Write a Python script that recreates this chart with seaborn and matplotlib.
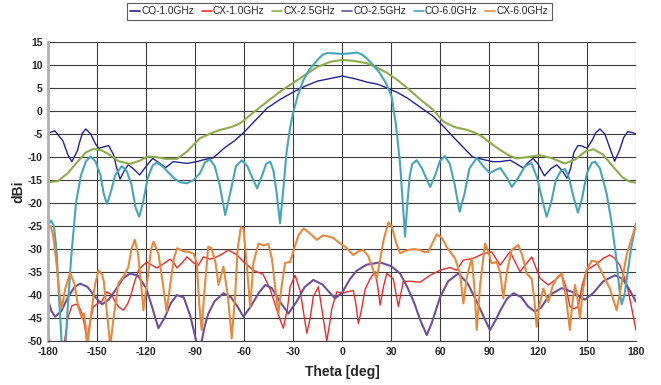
import numpy as np
import pandas as pd
import matplotlib
matplotlib.use("Agg")
import matplotlib.pyplot as plt
import seaborn as sns

# -------------------------------------------------
# data (theta in deg, gain in dBi)
# -------------------------------------------------
co10_theta = [-180, -176, -171, -168, -165.5, -162, -161, -159, -157, -154, -151, -149, -146, -143,
              -140, -138, -136, -133.5, -131, -128, -124, -120, -116, -112, -108, -103.5, -99, -95,
              -89, -85, -79, -72, -66, -60.6, -53, -46, -38, -30, -22, -15, -8, 0, 8, 15, 22, 27.5,
              34, 40, 48, 56, 62, 68, 74, 80, 86, 92, 96.8, 103, 107, 111, 114, 117, 120, 124, 128,
              131.6, 135, 137.8, 140, 142, 144.5, 147, 150, 153, 155.5, 158, 161, 164, 167, 170,
              172.5, 175, 178, 180]
co10_db = [-4.8, -4.3, -6.5, -9.5, -11, -8.5, -7, -4.8, -3.9, -5, -7.2, -8.1, -7.8, -7.5,
           -9.5, -12.5, -14.8, -13, -11.7, -12.5, -13.9, -12, -10.3, -11.3, -12.3, -11, -11.2, -11.4,
           -11, -10.6, -10.2, -8, -6.5, -4.8, -2, 0.6, 2.5, 4.1, 5.5, 6.5, 7, 7.6, 7, 6.3, 5.8, 5,
           4, 2.8, 0.8, -1.2, -3.3, -5.6, -7.8, -10, -10.5, -11, -11, -10.7, -11.5, -12.4, -11.2,
           -10.3, -11.5, -14.1, -12.5, -11.7, -13, -14.6, -12.5, -9, -7.5, -7.6, -8.1, -6.5, -4.7,
           -3.9, -5, -8, -10.9, -8.5, -5.8, -4.5, -4.7, -5]

cx10_theta = [-180, -178.5, -176, -172, -170, -168, -165.6, -163.5, -161.5, -159.4, -157.5, -156.4,
              -154.5, -152.3, -149.5, -147.2, -144.1, -141, -139, -137, -134, -131.5, -129.8, -127,
              -124.7, -122.6, -119.6, -116.5, -113.5, -109.4, -105.3, -103, -101.2, -98, -95, -91,
              -88, -85, -81, -76.9, -73, -69.8, -64.7, -59.6, -54.5, -48.4, -44.3, -41.5, -39, -36,
              -33.5, -31.8, -28.8, -25.7, -23.5, -21.6, -19.5, -17.6, -14.5, -12.4, -9.4, -7.5,
              -6.3, -3.2, 0.8, 2.9, 6.9, 8.5, 10, 12, 14, 17.1, 20.2, 21.8, 23.3, 25.5, 27.4, 31.4,
              34.5, 37.5, 41.6, 47.8, 53.9, 60, 66.1, 70.2, 74.3, 80.4, 86.5, 91.7, 96.8, 102.9,
              109, 116.2, 121.2, 126.3, 131.5, 134.5, 137, 139.6, 142, 144.7, 147, 149.8, 156, 160,
              164.1, 167, 170.2, 174.3, 177, 180]
cx10_db = [-48.3, -51, -56, -55, -50, -45, -42.4, -42, -42.2, -44, -47, -50,
           -46, -42.5, -41.8, -41.4, -39.3, -40, -41.5, -42.5, -43.3, -42, -40.5, -37,
           -34.6, -33.8, -32.8, -33.5, -34.1, -33.2, -32.2, -33, -34.1, -33, -31.7, -33,
           -33.5, -31.7, -32.2, -31.7, -31, -30.2, -31.2, -33, -34.6, -35.5, -38.5, -41.5, -44.3, -47.2,
           -43, -38.2, -35.7, -39, -44, -48.3, -45, -40.3, -38.2, -43, -50, -46,
           -43, -39.3, -39.6, -39.3, -39, -42, -46.2, -43, -38.9, -36.5, -34.9, -38, -42.2, -38, -35.3, -36.5,
           -42.5, -37, -37, -37.2, -35.7, -34.6, -34, -34.6, -32.4, -32, -31, -30.6, -33.5, -30.6,
           -34.9, -31.7, -36.3, -37.8, -36.5, -35.5, -38, -42.5, -43, -42.5, -38, -34.6, -33.2, -32,
           -31.3, -32, -33.5, -37.5, -42, -47.6]

cx25_theta = [-180, -174, -168, -162, -157, -152, -147, -142, -137, -130, -124, -119, -114, -108,
              -101, -95, -87, -80, -74.7, -68, -62.5, -55, -46, -38, -30, -22, -15, -7, 0, 7, 15,
              21, 27.5, 34, 40, 48, 56, 62, 69, 76.5, 82, 86, 91, 97, 102, 107, 114, 121, 128,
              136.6, 143, 149, 154, 160, 166, 172, 176, 180]
cx25_db = [-15.5, -15.2, -13.5, -11, -9, -8.2, -8.6, -9.6, -10.9, -11.5, -10.8, -9.9, -10, -10.4,
           -10.4, -8.8, -5.9, -4.8, -4.1, -3.5, -2.7, -0.5, 2, 4.2, 6.1, 8, 9.6, 10.7, 11.1, 10.9, 10.4,
           9.5, 8.3, 6.7, 5, 2.5, 0.2, -2.3, -3.5, -4.1, -4.8, -5.6, -7, -8.5, -9.6, -10.3, -10, -9.6, -10.2,
           -11.4, -10.5, -8.8, -8.3, -9.5, -12.1, -14.5, -15.3, -15.6]

co25_theta = [-180, -178, -175.8, -172, -168, -164, -160.5, -156, -151, -147, -143, -138, -134,
              -129.8, -125, -120, -116, -112.5, -108.5, -105, -101.2, -97, -93, -90, -88, -86, -84,
              -81.9, -78, -72.7, -68, -64, -60.4, -56, -51, -47, -43, -38, -32.8, -28, -23, -17.6,
              -12, -8, -4.3, 0, 4.9, 9, 15, 23.3, 30, 35.5, 40, 44, 48, 51.9, 55, 60, 65, 71.2, 77,
              82.5, 86.5, 90.6, 94, 97, 101, 105, 110, 114, 118.2, 122, 127, 134.5, 141, 148.8, 154,
              160, 167.2, 172, 176, 180]
co25_db = [-41.2, -43.5, -44.7, -43.5, -40.5, -38.3, -37.5, -38.2, -40.5, -42, -41, -38.5, -36.3,
           -35.3, -35.8, -38.5, -43, -47.2, -44.8, -41.8, -40, -40.5, -44.5, -49, -52, -50, -46.5,
           -44, -41.3, -39.6, -40.5, -42.5, -44.7, -42.5, -39.5, -37.8, -38.5, -41.5, -44, -41.5, -38.3, -36.7,
           -37.7, -39.3, -40.7, -39.5, -36.5, -34.7, -33.4, -32.9, -33.7, -35.3, -38.3, -41.5, -45.5, -48.7, -46, -40.5, -37, -35.3, -37.5,
           -41.4, -44.5, -47.6, -45.5, -43.3, -40.8, -39.6, -40.5, -42.5, -43.6, -42.7, -40, -38.5, -39.3, -41, -39.5,
           -37, -35.7, -36.5, -38.8, -41.4]

co60_theta = [-180, -178.3, -176.5, -175, -173.5, -172, -171, -169.5, -168.5, -166, -163, -160, -157,
              -154, -151, -148, -146, -144, -142, -139, -135, -132, -129, -126.5, -124.3, -122, -119,
              -116, -113.5, -110, -106, -103, -99, -95, -91, -87, -84, -81, -78, -75, -71.6, -68, -65,
              -61.4, -58, -55, -52, -49, -46.5, -44, -42, -40, -38, -36, -34, -32, -30, -27, -23.7,
              -20, -15.3, -12, -9, -4, 0, 4, 9, 12, 15, 19, 23, 27, 30.4, 33, 35.5, 37, 38.6, 40,
              41.5, 43, 45.7, 49, 52, 54, 57, 60, 63, 66, 69, 72, 75, 78, 82.5, 87, 90.6, 94, 97,
              101, 104, 108, 112, 116, 119.5, 122.5, 125.3, 128, 131, 134, 136.6, 139, 142, 144.5,
              147, 150, 153, 155, 158, 162, 165, 168, 170, 171.3, 173, 175, 177, 180]
co60_db = [-24.8, -23.8, -25, -30, -40, -49, -56, -52, -45, -32, -20, -14, -11,
           -9.9, -11, -14, -18, -20.2, -18, -14, -12, -13, -16, -21, -23, -20, -14.5,
           -11.8, -11.2, -12, -13.5, -14.6, -15.5, -15.7, -15, -13.5, -11.2, -10.5, -12, -16, -22.6, -17, -12,
           -10.7, -12, -14.5, -16.8, -14, -11.5, -11, -13, -18, -24.4, -17, -9, -4, -0.4, 3.5, 6.7,
           9, 11, 12.2, 12.6, 12.5, 12.4, 12.5, 12.7, 12.3, 11.5, 10, 8.3, 6, 3.1, -3, -11.3, -19, -27.3, -20,
           -14, -11.5, -10.7, -12.5, -15, -16.5, -14, -10.8, -9.8, -11.5, -16, -21.9, -18, -12.5, -10.2, -12.2, -13.5, -12.8, -12.4,
           -14.5, -16.5, -14.5, -12, -11.3, -14.5, -19, -23, -20, -15, -13, -12.6, -14.5, -19, -22.1,
           -19, -13.5, -11.3, -11, -12.5, -17.8, -24, -32, -39, -42, -40, -35, -30, -24.5]

cx60_theta = [-180, -178.5, -177, -175, -173, -171.7, -169.5, -166.6, -164, -161.5, -159.4, -158,
              -157, -156, -154, -151.5, -149.2, -147, -146, -144, -142, -140, -137, -134, -131, -129,
              -127, -125, -123, -121.7, -119, -117, -115.5, -112.5, -110, -107.5, -105, -103, -101,
              -97, -94, -91, -89, -87.5, -86, -84.5, -82, -80, -77.5, -75.7, -72.7, -70, -67.6,
              -65.5, -64, -62, -60.4, -58.5, -56.3, -54.3, -51.2, -48.2, -45.1, -43, -41, -39, -37,
              -34.9, -31.8, -29, -26.7, -23.5, -20, -15.5, -11.5, -8, -5.3, -1.2, 2, 6.9, 10, 13, 16,
              19, 21.2, 23.5, 25.3, 28.4, 30.4, 33, 35.5, 38, 40.6, 44, 47.8, 50.5, 52.8, 55, 58, 61,
              64.1, 67, 69.2, 72.3, 74.3, 76.5, 79.4, 81, 82.5, 84.5, 87.6, 89.5, 91.7, 94.7, 96.8,
              98.8, 101, 103.9, 108, 110.5, 113.1, 116.2, 117.8, 119.2, 121, 123.3, 126.4, 129,
              131.5, 134.5, 137, 139.6, 141, 142.7, 144.3, 145.7, 147.5, 149.8, 153, 156, 160, 164,
              168.2, 170, 172.3, 174.5, 176.4, 180]
cx60_db = [-25.2, -25, -27, -33, -40, -42.8, -38.5, -35.2, -37.5, -42.8, -45, -44,
           -47, -51, -45, -38, -34.6, -35.5, -37, -44, -51, -45, -37.4, -36, -34, -30,
           -28, -31, -38, -43.3, -36, -30, -28.4, -31, -37, -43.6, -37, -32, -29.8,
           -30.5, -30.6, -31, -33, -42, -47.6, -40, -29.5, -29.8, -33, -37.8, -33.8, -40, -49.4,
           -40, -30, -25.3, -25.5, -33, -42.5, -33, -28.8, -29.2, -28.9, -32, -38.2, -44, -38,
           -33, -32.8, -29.5, -27, -25.5, -26.5, -28, -27, -27.3, -27.6, -28.8, -29.5, -31.3, -30.5, -30.2, -31.5,
           -34.5, -36.4, -32, -28.2, -24.2, -25, -28.5, -30.9, -30.5, -30.2, -30, -30.2, -30.7, -30.6, -29, -26.8, -27.5,
           -29.5, -31, -32, -35.3, -41.8, -36, -32, -38, -47.6, -38, -28.8, -30.5, -33.1, -32.8, -35,
           -40.7, -35, -30.2, -29.1, -31.5, -35.3, -36.5, -41, -46.9, -42, -38.6, -41.5, -38,
           -36.3, -35.3, -40, -47.6, -42, -37.8, -41, -45.1, -39, -34.6, -32.5, -32.8, -35.7, -38.5,
           -43.3, -40, -35.3, -31, -28.8, -24.8]

series_names = ["CO-1.0GHz", "CX-1.0GHz", "CX-2.5GHz", "CO-2.5GHz", "CO-6.0GHz", "CX-6.0GHz"]
series_theta = [co10_theta, cx10_theta, cx25_theta, co25_theta, co60_theta, cx60_theta]
series_db = [co10_db, cx10_db, cx25_db, co25_db, co60_db, cx60_db]
colors = ["#23238c", "#ec2a2e", "#8eac4c", "#6b5198", "#45a6b9", "#e58a3c"]
widths = [1.0, 1.0, 1.5, 1.5, 1.5, 1.5]

frames = []
for name, th, db in zip(series_names, series_theta, series_db):
    frames.append(pd.DataFrame({"theta": th, "dBi": db, "series": name}))
df = pd.concat(frames, ignore_index=True)

# -------------------------------------------------
# plot
# -------------------------------------------------
sns.set_style("white")
plt.rcParams["font.family"] = ["Liberation Sans", "DejaVu Sans"]
plt.rcParams["axes.unicode_minus"] = False

fig = plt.figure(figsize=(6.61, 3.85), dpi=100)
ax = fig.add_axes([0.073, 0.114, 0.889, 0.777])

for name, col, lw in zip(series_names, colors, widths):
    sns.lineplot(data=df[df["series"] == name], x="theta", y="dBi", color=col,
                 linewidth=lw, label=name, estimator=None, sort=False, ax=ax)
for line in ax.get_lines():
    line.set_solid_joinstyle("round")

ax.set_xlim(-180, 180)
ax.set_ylim(-50, 15)
ax.set_xticks(np.arange(-180, 181, 30))
ax.set_yticks(np.arange(-50, 16, 5))
ax.grid(True, color="#3c3c3c", linewidth=0.8)
ax.set_axisbelow(True)
for side in ["top", "right"]:
    ax.spines[side].set_visible(False)
ax.spines["left"].set_color("#b0b0b0")
ax.spines["left"].set_linewidth(2)
ax.spines["bottom"].set_color("#3c3c3c")
ax.tick_params(axis="both", length=0, labelsize=7.5, pad=4)
for lab in ax.get_xticklabels() + ax.get_yticklabels():
    lab.set_fontweight("bold")

ax.set_xlabel("Theta [deg]", fontsize=10, fontweight="bold", labelpad=6)
ax.set_ylabel("dBi", fontsize=10, fontweight="bold", labelpad=2)

ax.get_legend().remove()
handles, labels = ax.get_legend_handles_labels()
leg = fig.legend(handles, labels, loc="upper center", bbox_to_anchor=(0.513, 1.006), ncol=6,
                 fontsize=7.3, frameon=True, fancybox=False, handlelength=1.0,
                 handletextpad=0.1, columnspacing=0.75, borderpad=0.35)
leg.get_frame().set_edgecolor("#333333")
leg.get_frame().set_linewidth(0.8)
for h in leg.get_lines():
    h.set_linewidth(1.2)

plt.savefig("out.png", dpi=100)
